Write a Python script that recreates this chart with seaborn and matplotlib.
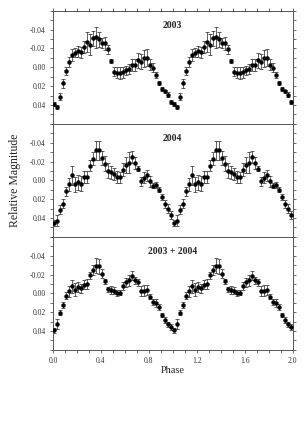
import matplotlib
matplotlib.use("Agg")
import matplotlib.pyplot as plt
from matplotlib.ticker import MultipleLocator, FormatStrFormatter
import numpy as np
import pandas as pd
import seaborn as sns

# phase bins of one cycle (plotted twice, 0-1 and 1-2)
phase = [0.0125, 0.0375, 0.0625, 0.0875, 0.1125, 0.1375, 0.1625, 0.1875, 0.2125, 0.2375,
         0.2625, 0.2875, 0.3125, 0.3375, 0.3625, 0.3875, 0.4125, 0.4375, 0.4625, 0.4875,
         0.5125, 0.5375, 0.5625, 0.5875, 0.6125, 0.6375, 0.6625, 0.6875, 0.7125, 0.7375,
         0.7625, 0.7875, 0.8125, 0.8375, 0.8625, 0.8875, 0.9125, 0.9375, 0.9625, 0.9875]

mag_2003 = [0.039, 0.0425, 0.031, 0.017, 0.004, -0.006, -0.013, -0.0155, -0.017, -0.016,
            -0.0215, -0.027, -0.024, -0.031, -0.032, -0.030, -0.0255, -0.0255, -0.019, -0.0065,
            0.0047, 0.0058, 0.006, 0.0054, 0.0032, 0.0018, -0.0025, -0.0025, -0.0076, -0.0058,
            -0.0094, -0.0104, -0.0029, 0.0004, 0.008, 0.017, 0.0227, 0.0256, 0.029, 0.037]
err_2003 = [0.002, 0.002, 0.004, 0.0045, 0.0045, 0.0055, 0.006, 0.005, 0.006, 0.006,
            0.0065, 0.011, 0.011, 0.008, 0.011, 0.008, 0.0055, 0.007, 0.005, 0.002,
            0.005, 0.006, 0.006, 0.006, 0.005, 0.005, 0.006, 0.006, 0.008, 0.008,
            0.009, 0.009, 0.006, 0.005, 0.003, 0.002, 0.002, 0.002, 0.003, 0.002]

mag_2004 = [0.0455, 0.043, 0.0312, 0.0248, 0.0116, 0.0044, -0.0052, 0.0044, 0.0019, 0.0037,
            -0.0034, -0.0034, -0.0156, -0.0231, -0.0318, -0.0318, -0.0238, -0.0178, -0.0102, -0.0084,
            -0.0068, -0.0034, -0.0031, -0.0113, -0.0163, -0.0188, -0.0248, -0.0184, -0.0124, 0.0012,
            -0.0028, -0.0052, 0.0012, 0.0055, 0.0052, 0.0098, 0.018, 0.0252, 0.0302, 0.037]
err_2004 = [0.003, 0.006, 0.005, 0.005, 0.005, 0.007, 0.01, 0.008, 0.008, 0.008,
            0.006, 0.006, 0.006, 0.007, 0.01, 0.01, 0.007, 0.008, 0.008, 0.007,
            0.006, 0.006, 0.006, 0.007, 0.008, 0.011, 0.006, 0.006, 0.003, 0.005,
            0.006, 0.006, 0.006, 0.003, 0.003, 0.003, 0.003, 0.004, 0.005, 0.004]

mag_both = [0.0393, 0.0325, 0.0204, 0.0126, 0.0023, -0.0023, -0.0076, -0.0037, -0.0066, -0.0052,
            -0.0091, -0.0101, -0.019, -0.0247, -0.0293, -0.0286, -0.0208, -0.0126, -0.0041, -0.0037,
            -0.003, -0.0002, -0.0009, -0.0076, -0.0116, -0.014, -0.0187, -0.0137, -0.0116, -0.0023,
            -0.003, -0.0034, 0.0034, 0.0094, 0.0105, 0.0148, 0.0233, 0.0283, 0.033, 0.036]
err_both = [0.003, 0.005, 0.003, 0.003, 0.004, 0.006, 0.007, 0.007, 0.005, 0.005,
            0.005, 0.005, 0.004, 0.005, 0.008, 0.008, 0.005, 0.003, 0.003, 0.004,
            0.004, 0.003, 0.003, 0.004, 0.005, 0.006, 0.005, 0.004, 0.004, 0.005,
            0.006, 0.005, 0.003, 0.003, 0.004, 0.003, 0.002, 0.003, 0.003, 0.003]

panels = [("2003", mag_2003, err_2003),
          ("2004", mag_2004, err_2004),
          ("2003 + 2004", mag_both, err_both)]

sns.set_style("ticks")
plt.rcParams["font.family"] = ["Liberation Serif", "DejaVu Serif"]
plt.rcParams["axes.unicode_minus"] = False

fig, axes = plt.subplots(3, 1, figsize=(3.06, 4.33), dpi=100, sharex=True)
fig.subplots_adjust(left=0.173, right=0.956, top=0.975, bottom=0.192, hspace=0)

edge = "#555555"
for i, (label, mag, err) in enumerate(panels):
    ax = axes[i]
    # fold twice: phase 0-1 and 1-2
    df = pd.DataFrame({
        "phase": list(phase) + [p + 1 for p in phase],
        "mag": list(mag) * 2,
        "err": list(err) * 2,
    })
    ax.errorbar(df["phase"], df["mag"], yerr=df["err"], fmt="none",
                ecolor="#444444", elinewidth=0.6, capsize=1.2, capthick=0.6, zorder=2)
    sns.scatterplot(data=df, x="phase", y="mag", ax=ax, color="black", s=8,
                    edgecolor="black", linewidth=0.3, zorder=3, legend=False)

    ax.set_xlim(0, 2)
    ax.set_ylim(0.06, -0.06)
    ax.set_xlabel("")
    ax.set_ylabel("")
    ax.text(0.5, 0.87, label, transform=ax.transAxes, ha="center", va="center",
            fontsize=7, fontweight="bold")

    ax.xaxis.set_major_locator(MultipleLocator(0.4))
    ax.xaxis.set_minor_locator(MultipleLocator(0.1))
    ax.xaxis.set_major_formatter(FormatStrFormatter("%.1f"))
    ax.yaxis.set_minor_locator(MultipleLocator(0.01))
    ax.set_yticks([-0.04, -0.02, 0.0, 0.02, 0.04])
    ax.yaxis.set_major_formatter(FormatStrFormatter("%.2f"))

    ax.tick_params(which="both", direction="out", length=2.2, width=0.6, color=edge,
                   labelsize=5.5, labelcolor="#333333", pad=3,
                   right=True, top=(i == 0), bottom=True, left=True)
    for s in ax.spines.values():
        s.set_color(edge)
        s.set_linewidth(0.7)

axes[2].set_xlabel("Phase", fontsize=7.5, labelpad=1)
fig.text(0.05, 0.584, "Relative Magnitude", rotation=90, ha="center", va="center", fontsize=8.5)

plt.savefig("out.png", dpi=100)
plt.close()
